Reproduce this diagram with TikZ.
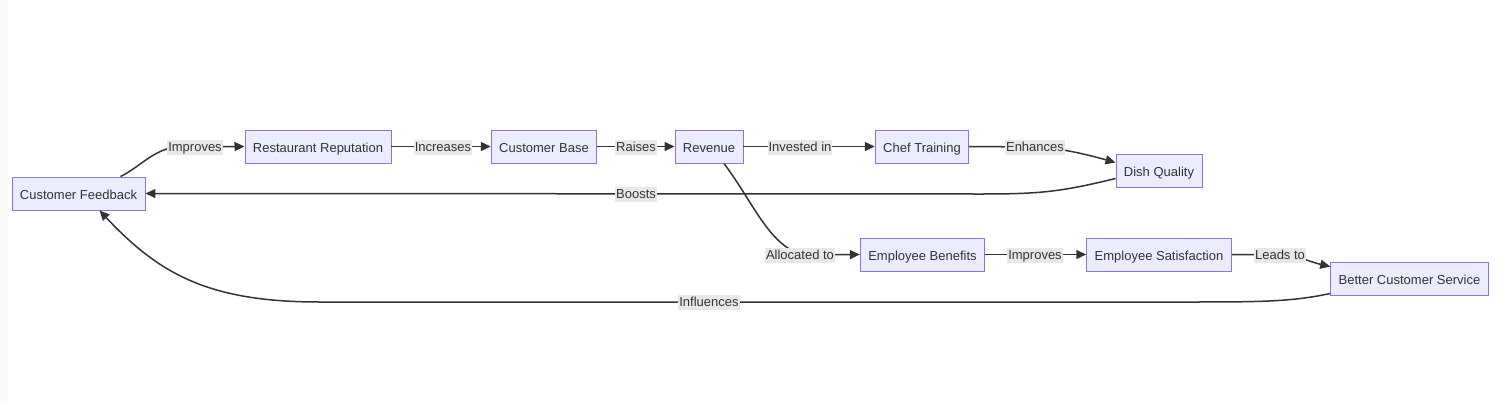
\documentclass[tikz,border=0pt]{standalone}
\usepackage{fontspec}
\setmainfont{Liberation Sans}
\usepackage{tikz}
\usetikzlibrary{arrows.meta}
\definecolor{nodefill}{HTML}{ECECFF}
\definecolor{nodeline}{HTML}{9370DB}
\definecolor{edgeline}{HTML}{333333}
\definecolor{labelfill}{HTML}{E8E8E8}
\tikzset{
  block/.style={rectangle, draw=nodeline, fill=nodefill, line width=0.9pt, minimum height=33pt, inner xsep=8pt, text height=11pt, text depth=0pt, text=edgeline, font=\fontsize{13}{15}\selectfont},
  edgelabel/.style={fill=labelfill, inner sep=1pt, text height=11pt, text depth=2pt, text=edgeline, font=\fontsize{13}{15}\selectfont},
  arrow/.style={-{Triangle[length=10pt,width=9pt]}, line width=1.5pt, draw=edgeline},
}

\begin{document}
\begin{tikzpicture}[x=1pt, y=-1pt]
  \useasboundingbox (0,0) rectangle (1505,402);
  \fill[black!2] (0,0) rectangle (8,402);

  \node[block] (feedback) at (78.5,193.5) {Customer Feedback};
  \node[block] (reputation) at (318,146.5) {Restaurant Reputation};
  \node[block] (custbase) at (544,146.5) {Customer Base};
  \node[block] (revenue) at (709,146.5) {Revenue};
  \node[block] (training) at (922,146.5) {Chef Training};
  \node[block] (dish) at (1159,170.5) {Dish Quality};
  \node[block] (benefits) at (922.5,254.5) {Employee Benefits};
  \node[block] (satisfaction) at (1159,254.5) {Employee Satisfaction};
  \node[block] (service) at (1409.5,278.5) {Better Customer Service};

  % edges
  \draw[arrow] ([xshift=42pt]feedback.north) .. controls (140,167) and (155,148) .. (178,147) -- (reputation.west);
  \draw[arrow] (reputation) -- (custbase);
  \draw[arrow] (custbase) -- (revenue);
  \draw[arrow] (revenue) -- (training);
  \draw[arrow] (training.east) -- (1035,147) .. controls (1060,148) and (1085,154) .. ([yshift=8pt]dish.west);
  \draw[arrow] ([yshift=-8pt]dish.west) .. controls (1060,192) and (1040,194) .. (980,194) -- (feedback.east);
  \draw[arrow] ([xshift=15pt]revenue.south) .. controls (755,205) and (770,248) .. (805,255) -- (benefits.west);
  \draw[arrow] (benefits) -- (satisfaction);
  \draw[arrow] (satisfaction.east) -- (1280,255) .. controls (1300,256) and (1310,262) .. ([yshift=12pt]service.west);
  \draw[arrow] ([yshift=-15pt]service.west) .. controls (1290,302) and (1260,302) .. (1180,302) -- (320,302) .. controls (210,302) and (160,275) .. ([xshift=21pt]feedback.south);

  % labels
  \node[edgelabel] (l1) at (195,147) {Improves};
  \node[edgelabel] (l2) at (443,147) {Increases};
  \node[edgelabel] (l3) at (636,147) {Raises};
  \node[edgelabel] (l4) at (800,147) {Invested in};
  \node[edgelabel] (l5) at (1035,147) {Enhances};
  \node[edgelabel] (l6) at (636,194) {Boosts};
  \node[edgelabel] (l7) at (800,255) {Allocated to};
  \node[edgelabel] (l8) at (1035,255) {Improves};
  \node[edgelabel] (l9) at (1280,255) {Leads to};
  \node[edgelabel] (l10) at (709,302) {Influences};
\end{tikzpicture}
\end{document}
